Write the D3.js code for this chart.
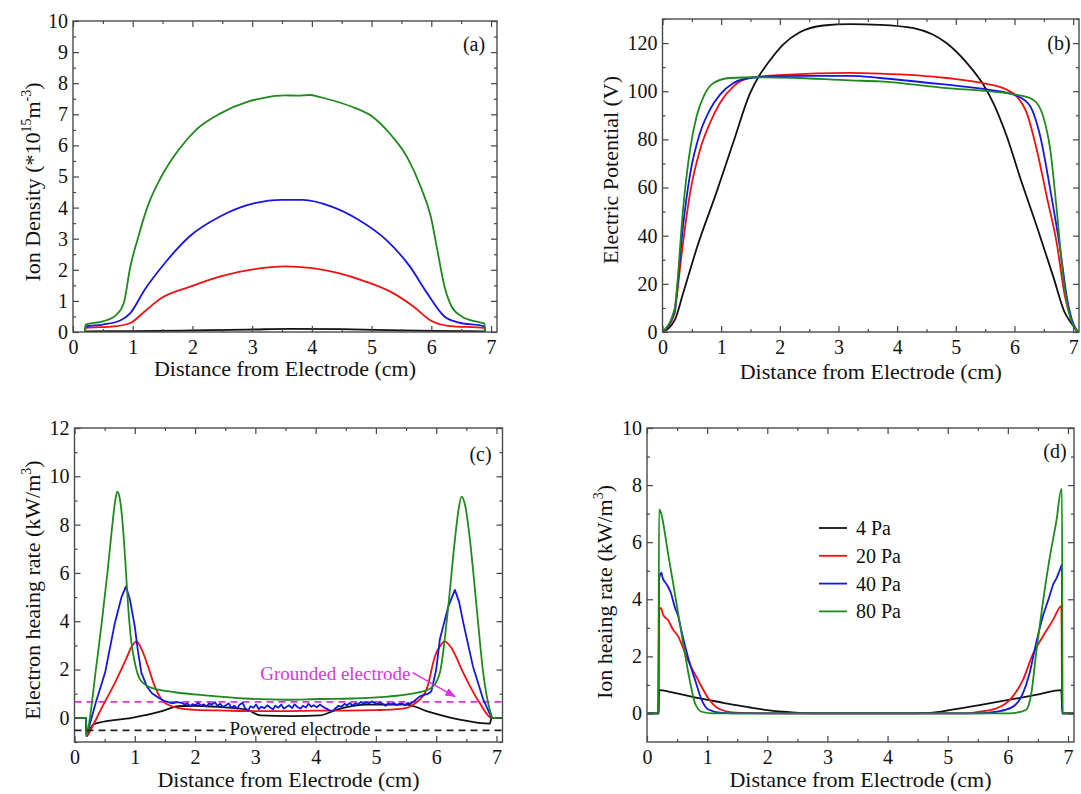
<!DOCTYPE html>
<html>
<head>
<meta charset="utf-8">
<script src="https://cdn.jsdelivr.net/npm/d3@7"></script>
<style>
body{margin:0;background:#fff;}
svg{font-family:"Liberation Serif","Times New Roman",serif;}
</style>
</head>
<body>
<svg id="fig" width="1081" height="794"></svg>
<script>
// series order everywhere: 4, 20, 40, 80 Pa
var PRESSURES = ["4 Pa","20 Pa","40 Pa","80 Pa"];
var COLORS = ["#111111","#ee1111","#1717dd","#1e8a1e"];
var X_TICKS = [0,1,2,3,4,5,6,7];
var X_MINOR = [0.5,1.5,2.5,3.5,4.5,5.5,6.5];

// ---------------- (a) ion density, *10^15 m^-3 ----------------
var density4 = [[0.2,0],[0.21,0.02],[1,0.03],[2,0.05],[3,0.08],[3.6,0.1],[4.5,0.09],[5.5,0.05],[6.5,0.03],[6.89,0.02],[6.9,0]];
var density20 = [[0.2,0],[0.21,0.13],[0.68,0.18],[0.96,0.29],[1.2,0.66],[1.48,1.09],[1.95,1.45],[2.47,1.79],[3.04,2.02],[3.56,2.11],[3.97,2.06],[4.43,1.9],[4.89,1.63],[5.36,1.25],[5.7,0.82],[5.99,0.37],[6.28,0.2],[6.89,0.13],[6.9,0]];
var density40 = [[0.2,0],[0.21,0.18],[0.5,0.24],[0.79,0.37],[0.96,0.61],[1.2,1.36],[1.54,2.22],[1.95,3.07],[2.47,3.72],[3.04,4.14],[3.5,4.25],[3.85,4.25],[4.32,4.04],[4.78,3.61],[5.24,2.97],[5.64,2.11],[5.93,1.25],[6.22,0.5],[6.45,0.31],[6.89,0.18],[6.9,0]];
var density80 = [[0.2,0],[0.21,0.24],[0.5,0.34],[0.73,0.56],[0.85,0.93],[0.96,2.1],[1.08,2.97],[1.25,4.04],[1.48,5.0],[1.77,5.86],[2.06,6.5],[2.47,7.03],[2.93,7.41],[3.2,7.53],[3.39,7.59],[3.55,7.61],[3.75,7.6],[3.97,7.62],[4.12,7.56],[4.32,7.46],[4.66,7.25],[5.01,6.93],[5.3,6.39],[5.59,5.64],[5.82,4.68],[5.99,3.72],[6.11,2.54],[6.22,1.47],[6.34,0.82],[6.51,0.5],[6.74,0.34],[6.89,0.27],[6.9,0]];

// ---------------- (b) electric potential, V ----------------
var potential4 = [[0,0],[0.21,5],[0.35,16],[0.6,36],[0.92,58],[1.21,79],[1.49,99],[1.65,106.5],[1.8,111.8],[2.06,119.5],[2.34,124.5],[2.74,127.3],[3.2,127.9],[3.71,127.6],[4.28,126.2],[4.84,120],[5.19,111.7],[5.47,102.7],[5.64,95.1],[5.87,81.2],[6.09,64.6],[6.38,43.9],[6.66,23.1],[6.86,7.9],[6.95,4.4],[7.08,0]];
var potential20 = [[0,0],[0.21,8],[0.23,12],[0.35,37],[0.47,57.7],[0.64,75.7],[0.81,86.8],[0.98,95.1],[1.21,102],[1.49,105.5],[2.06,106.8],[3.2,107.6],[3.71,107.3],[4.84,105.5],[5.52,103.1],[5.87,100.6],[6.04,97.8],[6.21,90.9],[6.38,75.7],[6.55,56.3],[6.72,37],[6.86,14.8],[6.97,5],[7.08,0]];
var potential40 = [[0,0],[0.21,9],[0.23,13],[0.35,44],[0.47,65.5],[0.64,82.7],[0.81,92.4],[0.98,98.6],[1.21,103.4],[1.49,105.5],[2.06,106.3],[3.2,106.4],[3.71,105.5],[4.84,102.7],[5.58,100.6],[6.04,98.1],[6.27,93.7],[6.44,81.2],[6.61,59.1],[6.78,34.2],[6.9,13.4],[6.98,5],[7.08,0]];
var potential80 = [[0,0],[0.21,10],[0.23,14],[0.35,50.8],[0.47,75.7],[0.58,89.5],[0.7,97.8],[0.87,103.4],[1.15,105.5],[1.6,105.8],[2.2,105.6],[3.2,104.5],[3.71,104.1],[4.84,101.3],[5.58,99.9],[6.04,98.5],[6.32,96.5],[6.49,89.5],[6.61,75.7],[6.72,50.8],[6.83,23.1],[6.92,9.3],[7.08,0]];

// ---------------- (c) electron heating rate, kW/m^3 ----------------
var heatE4 = [[0,0],[0.19,0],[0.2,-0.7],[0.3,-0.3],[0.39,-0.21],[0.95,0],[1.45,0.28],[1.72,0.48],[1.97,0.5],[2.4,0.45],[2.86,0.34],[3.08,0.1],[3.63,0.07],[4.07,0.1],[4.35,0.34],[4.85,0.55],[5.51,0.55],[5.84,0.28],[6.39,-0.07],[6.89,-0.24],[6.92,0],[7.1,0]];
var heatE20 = [[0,0],[0.19,0],[0.2,-0.76],[0.285,-0.41],[0.45,0.4],[0.67,1.45],[0.85,2.4],[0.95,2.95],[1.03,3.17],[1.12,2.8],[1.22,2.13],[1.33,1.31],[1.42,0.85],[1.5,0.62],[1.72,0.41],[2.0,0.33],[2.5,0.3],[3.0,0.28],[3.5,0.28],[4.0,0.3],[4.5,0.3],[5.0,0.32],[5.3,0.35],[5.51,0.41],[5.65,0.6],[5.84,1.17],[5.98,2.55],[6.06,2.95],[6.14,3.17],[6.25,2.9],[6.45,1.86],[6.72,0.62],[6.92,0],[7.1,0]];
var heatE40 = [[0,0],[0.19,0],[0.2,-0.76],[0.35,0.6],[0.51,1.9],[0.67,3.93],[0.78,5.0],[0.854,5.44],[0.92,4.89],[1.0,3.79],[1.05,2.8],[1.11,1.86],[1.2,1.3],[1.28,1.03],[1.4,0.82],[1.5,0.69],[1.62,0.6],[1.7,0.65],[1.78,0.62],
	[1.83,0.55],[1.87,0.6],[1.92,0.48],[1.96,0.57],[2.01,0.52],[2.05,0.63],[2.1,0.5],[2.14,0.56],[2.19,0.47],[2.23,0.6],[2.28,0.55],[2.33,0.65],[2.37,0.5],[2.42,0.58],[2.46,0.45],[2.51,0.52],[2.56,0.6],[2.6,0.42],[2.65,0.5],[2.7,0.38],[2.74,0.55],[2.79,0.62],[2.83,0.4],[2.88,0.3],[2.92,0.48],[2.97,0.42],[3.01,0.55],[3.06,0.36],[3.1,0.46],[3.15,0.4],[3.2,0.52],[3.24,0.44],[3.29,0.35],[3.33,0.5],[3.38,0.42],[3.43,0.55],[3.47,0.38],[3.52,0.46],[3.56,0.52],[3.61,0.4],[3.65,0.56],[3.7,0.45],[3.75,0.38],[3.79,0.5],[3.84,0.43],[3.88,0.58],[3.93,0.46],[3.97,0.52],[4.02,0.44],[4.07,0.55],[4.11,0.48],[4.16,0.4],[4.2,0.36],[4.25,0.28],[4.29,0.3],[4.34,0.42],[4.38,0.5],[4.43,0.46],[4.48,0.58],[4.52,0.52],[4.57,0.62],[4.61,0.5],[4.66,0.6],[4.7,0.55],[4.75,0.66],[4.8,0.58],[4.84,0.64],[4.89,0.6],[4.93,0.68],[4.98,0.62],[5.02,0.56],[5.07,0.64],[5.11,0.58],[5.16,0.5],[5.21,0.6],[5.25,0.55],[5.3,0.62],[5.34,0.52],[5.39,0.58],[5.43,0.6],[5.48,0.52],[5.53,0.62],[5.57,0.58],[5.62,0.66],[5.66,0.75],
	[5.73,0.89],[5.8,0.95],[5.87,1.0],[5.92,1.1],[6.0,2.0],[6.06,3.24],[6.2,4.6],[6.31,5.3],[6.38,4.8],[6.45,3.93],[6.61,2.13],[6.78,0.76],[6.92,0],[7.1,0]];
var heatE80 = [[0,0],[0.19,0],[0.2,-0.76],[0.25,-0.1],[0.35,1.9],[0.45,3.9],[0.55,6.1],[0.62,7.8],[0.67,8.9],[0.71,9.36],[0.75,9.1],[0.8,8.0],[0.85,6.2],[0.89,4.61],[0.94,3.2],[0.98,2.55],[1.09,1.58],[1.28,1.24],[1.67,1.06],[2.22,0.92],[2.83,0.8],[3.5,0.75],[4.07,0.78],[4.6,0.8],[5.2,0.88],[5.73,1.06],[5.92,1.24],[6.06,1.86],[6.2,4.6],[6.31,7.37],[6.37,8.6],[6.42,9.16],[6.48,8.8],[6.56,7.37],[6.67,4.6],[6.78,1.86],[6.92,0.07],[6.93,0],[7.1,0]];
var GROUNDED_LEVEL = 0.66;
var POWERED_LEVEL = -0.52;

// ---------------- (d) ion heating rate, kW/m^3 ----------------
var heatI4 = [[0,0],[0.19,0],[0.2,0.82],[0.21,0.82],[0.4,0.75],[0.63,0.64],[0.9,0.52],[1.18,0.41],[1.45,0.3],[1.74,0.2],[2.0,0.12],[2.26,0.06],[2.6,0.01],[3,0],[4.2,0],[4.7,0.02],[5.1,0.14],[5.53,0.29],[6.08,0.5],[6.53,0.68],[6.89,0.82],[6.905,0],[7.1,0]];
var heatI20 = [[0,0],[0.19,0],[0.2,3.6],[0.23,3.7],[0.27,3.45],[0.35,3.27],[0.43,2.95],[0.52,2.69],[0.6,2.3],[0.68,1.87],[0.85,1.17],[1.02,0.53],[1.18,0.18],[1.46,0.03],[2.0,0],[5.3,0],[5.53,0.06],[5.81,0.18],[6.03,0.47],[6.25,1.17],[6.42,2.1],[6.58,2.69],[6.75,3.27],[6.89,3.76],[6.905,0],[7.1,0]];
var heatI40 = [[0,0],[0.19,0],[0.2,4.7],[0.24,4.93],[0.26,4.75],[0.3,4.6],[0.35,4.44],[0.4,4.2],[0.46,3.74],[0.52,3.4],[0.57,2.92],[0.68,1.99],[0.8,1.17],[0.91,0.47],[1.02,0.14],[1.24,0.02],[1.6,0],[5.5,0],[5.81,0.06],[6.08,0.23],[6.25,0.7],[6.36,1.4],[6.47,2.46],[6.58,3.39],[6.69,4.09],[6.75,4.5],[6.81,4.74],[6.86,5.0],[6.9,5.2],[6.905,0],[7.1,0]];
var heatI80 = [[0,0],[0.19,0],[0.2,7.15],[0.22,7.1],[0.35,5.61],[0.49,3.86],[0.63,2.1],[0.71,1.17],[0.8,0.35],[0.91,0.06],[1.1,0],[6.0,0],[6.08,0.01],[6.3,0.12],[6.39,0.7],[6.47,2.1],[6.58,3.86],[6.69,5.38],[6.81,6.78],[6.89,7.86],[6.9,7.86],[6.91,0],[7.1,0]];

var svg = d3.select("#fig");
var FONT_TICK = "20px", FONT_TITLE = "22px";

function drawPanel(p){
	var g = svg.append("g").attr("id",p.id);
	var x = d3.scaleLinear().domain([0,7.1]).range([p.left,p.right]);
	var y = d3.scaleLinear().domain(p.yDomain).range([p.bottom,p.top]);

	g.append("clipPath").attr("id","clip_"+p.id)
		.append("rect").attr("x",p.left).attr("y",p.top)
		.attr("width",p.right-p.left).attr("height",p.bottom-p.top);

	var plot = g.append("g").attr("clip-path","url(#clip_"+p.id+")");
	var line = d3.line().x(function(d){return x(d[0]);}).y(function(d){return y(d[1]);});

	// extra reference lines go under the data
	if (p.under) p.under(plot,x,y);

	p.series.forEach(function(s,i){
		plot.append("path").datum(s)
			.attr("fill","none")
			.attr("stroke",COLORS[i])
			.attr("stroke-width",1.8)
			.attr("stroke-linejoin","round")
			.attr("d",line.curve(p.noisy && p.noisy[i] ? d3.curveLinear : d3.curveMonotoneX));
	});

	// ticks, all pointing inward
	var ax = g.append("g").attr("class","axes");
	ax.append("g").attr("transform","translate(0,"+p.bottom+")")
		.call(d3.axisBottom(x).tickValues(X_TICKS).tickSize(-6).tickPadding(8).tickFormat(d3.format("d")));
	ax.append("g").attr("transform","translate(0,"+p.bottom+")")
		.call(d3.axisBottom(x).tickValues(X_MINOR).tickSize(-3).tickFormat(""));
	ax.append("g").attr("transform","translate(0,"+p.top+")")
		.call(d3.axisTop(x).tickValues(X_TICKS).tickSize(-6).tickFormat(""));
	ax.append("g").attr("transform","translate(0,"+p.top+")")
		.call(d3.axisTop(x).tickValues(X_MINOR).tickSize(-3).tickFormat(""));
	ax.append("g").attr("transform","translate("+p.left+",0)")
		.call(d3.axisLeft(y).tickValues(p.yTicks).tickSize(-6).tickPadding(5).tickFormat(d3.format("d")));
	ax.append("g").attr("transform","translate("+p.left+",0)")
		.call(d3.axisLeft(y).tickValues(p.yMinor).tickSize(-3).tickFormat(""));
	ax.append("g").attr("transform","translate("+p.right+",0)")
		.call(d3.axisRight(y).tickValues(p.yTicks).tickSize(-6).tickFormat(""));
	ax.append("g").attr("transform","translate("+p.right+",0)")
		.call(d3.axisRight(y).tickValues(p.yMinor).tickSize(-3).tickFormat(""));
	ax.selectAll(".domain").remove();
	ax.selectAll("g").attr("font-size",null).attr("font-family",null);
	ax.selectAll(".tick line").attr("stroke","#444").attr("stroke-width",1.2);
	ax.selectAll(".tick text").attr("fill","#111").style("font-size",FONT_TICK);

	g.append("rect")
		.attr("x",p.left).attr("y",p.top)
		.attr("width",p.right-p.left).attr("height",p.bottom-p.top)
		.attr("fill","none").attr("stroke","#4a4a4a").attr("stroke-width",1.4);

	// x title
	g.append("text")
		.attr("x",(p.left+p.right)/2).attr("y",p.xTitleY)
		.attr("text-anchor","middle").style("font-size",FONT_TITLE).attr("fill","#111")
		.text("Distance from Electrode (cm)");

	// y title (rotated)
	var yt = g.append("text")
		.attr("transform","translate("+p.yTitleX+","+p.yTitleY+") rotate(-90)")
		.attr("text-anchor","middle").style("font-size",FONT_TITLE).attr("fill","#111");
	p.yTitle.forEach(function(part){
		var t = yt.append("tspan").text(part.t);
		if (part.sup){ t.style("font-size","14px").attr("dy",-9); }
		else if (part.back){ t.attr("dy",9); }
	});

	// panel letter
	g.append("text")
		.attr("x",p.right-p.tagDx).attr("y",p.top+p.tagDy)
		.attr("text-anchor","middle").style("font-size","20px").attr("fill","#111")
		.text(p.tag);

	return {g:g,x:x,y:y};
}

// (a)
drawPanel({
	id:"pa", left:73, right:497, top:21, bottom:332,
	yDomain:[0,10], yTicks:d3.range(0,11,1), yMinor:d3.range(0.5,10,1),
	series:[density4,density20,density40,density80],
	xTitleY:376, yTitleX:40, yTitleY:182,
	yTitle:[{t:"Ion Density (*10"},{t:"15",sup:true},{t:"m",back:true},{t:"-3",sup:true},{t:")",back:true}],
	tag:"(a)", tagDx:23, tagDy:30
});

// (b)
drawPanel({
	id:"pb", left:662.5, right:1079, top:19, bottom:332,
	yDomain:[0,130], yTicks:d3.range(0,121,20), yMinor:d3.range(10,131,20),
	series:[potential4,potential20,potential40,potential80],
	xTitleY:379, yTitleX:618, yTitleY:170,
	yTitle:[{t:"Electric Potential (V)"}],
	tag:"(b)", tagDx:20, tagDy:31
});

// (c)
var pc = drawPanel({
	id:"pc", left:74.5, right:502.5, top:428, bottom:742,
	yDomain:[-1,12], yTicks:d3.range(0,13,2), yMinor:d3.range(-1,12,2),
	series:[heatE4,heatE20,heatE40,heatE80],
	noisy:[false,false,true,false],
	xTitleY:787, yTitleX:39.5, yTitleY:590,
	yTitle:[{t:"Electron heaing rate (kW/m"},{t:"3",sup:true},{t:")",back:true}],
	tag:"(c)", tagDx:22, tagDy:33,
	under:function(plot,x,y){
		plot.append("line")
			.attr("x1",x(0)).attr("x2",x(7.1))
			.attr("y1",y(GROUNDED_LEVEL)).attr("y2",y(GROUNDED_LEVEL))
			.attr("stroke","#dd33dd").attr("stroke-width",1.8).attr("stroke-dasharray","7,5");
	}
});

// powered electrode level + labels
var cAnn = pc.g.append("g");
cAnn.append("line")
	.attr("x1",pc.x(0)).attr("x2",pc.x(7.1))
	.attr("y1",pc.y(POWERED_LEVEL)).attr("y2",pc.y(POWERED_LEVEL))
	.attr("stroke","#222").attr("stroke-width",1.8).attr("stroke-dasharray","7,5");
var pow = cAnn.append("text")
	.attr("x",pc.x(3.74)).attr("y",pc.y(-0.73))
	.attr("text-anchor","middle").style("font-size","19px").attr("fill","#111")
	.text("Powered electrode");
var bb = pow.node().getBBox();
cAnn.insert("rect","text")
	.attr("x",bb.x-1).attr("y",pc.y(POWERED_LEVEL)-3)
	.attr("width",bb.width+2).attr("height",6).attr("fill","#fff");

pc.g.append("defs").append("marker")
	.attr("id","arrowM").attr("viewBox","0 0 10 10").attr("refX",9).attr("refY",5)
	.attr("markerWidth",7).attr("markerHeight",7).attr("orient","auto")
	.append("path").attr("d","M0,1 L10,5 L0,9 z").attr("fill","#dd33dd");
cAnn.append("text")
	.attr("x",pc.x(3.08)).attr("y",pc.y(1.58))
	.style("font-size","19px").attr("fill","#dd33dd")
	.text("Grounded electrode");
cAnn.append("line")
	.attr("x1",pc.x(5.61)).attr("y1",pc.y(1.87))
	.attr("x2",pc.x(6.31)).attr("y2",pc.y(0.88))
	.attr("stroke","#dd33dd").attr("stroke-width",1.5).attr("marker-end","url(#arrowM)");

// (d)
var pd = drawPanel({
	id:"pd", left:647, right:1074, top:428, bottom:742,
	yDomain:[-1,10], yTicks:d3.range(0,11,2), yMinor:d3.range(1,10,2),
	series:[heatI4,heatI20,heatI40,heatI80],
	xTitleY:787, yTitleX:612, yTitleY:592,
	yTitle:[{t:"Ion heaing rate (kW/m"},{t:"3",sup:true},{t:")",back:true}],
	tag:"(d)", tagDx:19, tagDy:30
});

// legend
var leg = pd.g.append("g").attr("transform","translate("+(pd.x.range()[0]+172)+","+(pd.y.range()[1]+100)+")");
PRESSURES.forEach(function(name,i){
	var row = leg.append("g").attr("transform","translate(0,"+(i*27.8)+")");
	row.append("line").attr("x1",0).attr("x2",28).attr("y1",0).attr("y2",0)
		.attr("stroke",COLORS[i]).attr("stroke-width",1.8);
	row.append("text").attr("x",37).attr("y",0).attr("dy","0.35em")
		.style("font-size","20px").attr("fill","#111").text(name);
});
</script>
</body>
</html>
